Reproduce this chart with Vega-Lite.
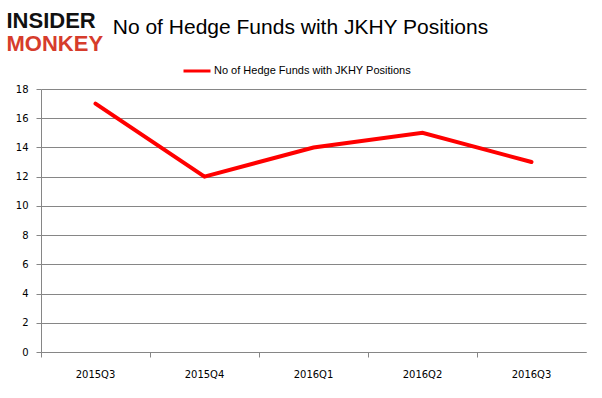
{
  "$schema": "https://vega.github.io/schema/vega-lite/v6.json",
  "width": 545,
  "height": 263,
  "autosize": {"type": "none"},
  "padding": {"left": 41, "top": 89, "right": 16, "bottom": 46},
  "background": "white",
  "title": {
    "text": "No of Hedge Funds with JKHY Positions",
    "anchor": "middle",
    "frame": "group",
    "font": "Liberation Sans",
    "fontSize": 21,
    "fontWeight": "normal",
    "color": "#000000",
    "dx": -13,
    "dy": 33
  },
  "data": {
    "values": [
      {"quarter": "2015Q3", "funds": 17, "series": "No of Hedge Funds with JKHY Positions"},
      {"quarter": "2015Q4", "funds": 12, "series": "No of Hedge Funds with JKHY Positions"},
      {"quarter": "2016Q1", "funds": 14, "series": "No of Hedge Funds with JKHY Positions"},
      {"quarter": "2016Q2", "funds": 15, "series": "No of Hedge Funds with JKHY Positions"},
      {"quarter": "2016Q3", "funds": 13, "series": "No of Hedge Funds with JKHY Positions"}
    ]
  },
  "mark": {"type": "line", "strokeWidth": 4, "strokeCap": "round"},
  "encoding": {
    "x": {
      "field": "quarter",
      "type": "ordinal",
      "scale": {"type": "band", "paddingInner": 0, "paddingOuter": 0},
      "axis": {
        "title": "MONKEY",
        "titleX": -35,
        "titleY": -302,
        "titleAlign": "left",
        "titleBaseline": "alphabetic",
        "titleAngle": 0,
        "titleFont": "Liberation Sans",
        "titleFontSize": 22,
        "titleFontWeight": "bold",
        "titleColor": "#d63c2c",
        "labelAngle": 0,
        "bandPosition": 0,
        "labelPadding": 12,
        "tickSize": 5,
        "grid": false
      }
    },
    "y": {
      "field": "funds",
      "type": "quantitative",
      "scale": {"domain": [0, 18]},
      "axis": {
        "values": [0, 2, 4, 6, 8, 10, 12, 14, 16, 18],
        "title": "INSIDER",
        "titleX": -35,
        "titleY": -62,
        "titleAlign": "left",
        "titleBaseline": "alphabetic",
        "titleAngle": 0,
        "titleFont": "Liberation Sans",
        "titleFontSize": 22,
        "titleFontWeight": "bold",
        "titleColor": "#111111",
        "tickSize": 5,
        "labelPadding": 8,
        "grid": true
      }
    },
    "color": {
      "field": "series",
      "type": "nominal",
      "scale": {"range": ["#ff0000"]},
      "legend": {
        "title": null,
        "orient": "none",
        "legendX": 141,
        "legendY": -33,
        "symbolType": "stroke",
        "symbolSize": 729,
        "symbolStrokeWidth": 3,
        "labelFont": "Liberation Sans",
        "labelFontSize": 11,
        "labelColor": "#000000",
        "labelOffset": 2,
        "labelLimit": 400
      }
    }
  },
  "config": {
    "view": {"stroke": null},
    "axis": {
      "domainColor": "#868686",
      "tickColor": "#868686",
      "gridColor": "#868686",
      "gridOpacity": 1,
      "labelFont": "DejaVu Sans",
      "labelFontSize": 10,
      "labelColor": "#000000",
      "domainWidth": 1,
      "gridWidth": 1
    }
  }
}
